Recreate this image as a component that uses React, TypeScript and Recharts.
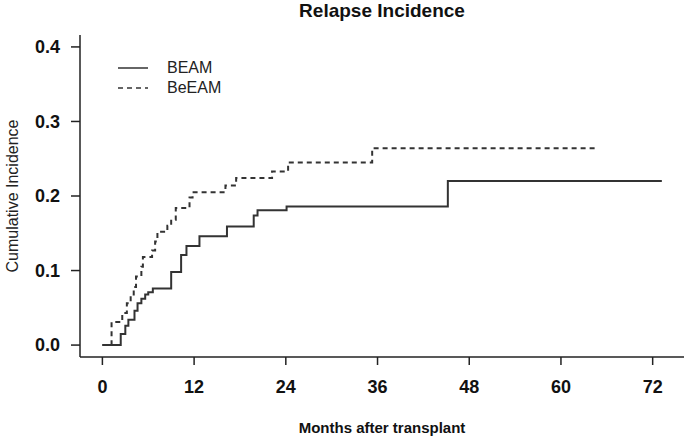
import * as React from "react"
import { LineChart, Line, XAxis, YAxis, Label } from "recharts"

// months after transplant where each curve steps, and the cumulative incidence reached there
const MONTHS_BEAM = [0, 2.4, 3.0, 3.4, 4.2, 4.6, 5.1, 5.6, 6.0, 6.6, 9.0, 10.3, 11.0, 12.7, 16.3, 19.8, 20.3, 24.1, 45.2, 73.2]
const CI_BEAM = [0, 0.015, 0.026, 0.034, 0.046, 0.056, 0.062, 0.068, 0.071, 0.076, 0.098, 0.121, 0.133, 0.146, 0.159, 0.174, 0.181, 0.186, 0.22, 0.22]

const MONTHS_BEEAM = [0, 1.2, 2.6, 3.2, 3.7, 4.1, 4.4, 5.1, 5.3, 6.5, 6.9, 7.2, 8.5, 9.0, 9.6, 11.4, 11.8, 16.1, 17.5, 22.2, 24.3, 35.3, 64.9]
const CI_BEEAM = [0, 0.031, 0.043, 0.056, 0.068, 0.078, 0.092, 0.105, 0.118, 0.127, 0.139, 0.152, 0.16, 0.168, 0.184, 0.198, 0.205, 0.214, 0.224, 0.233, 0.245, 0.264, 0.264]

const SERIES_NAMES = ["BEAM", "BeEAM"]
const X_TICKS = [0, 12, 24, 36, 48, 60, 72]
const Y_TICKS = [0, 0.1, 0.2, 0.3, 0.4]

const FONT = "'Liberation Sans', Arial, sans-serif"
const INK = "#222"

const beamData = MONTHS_BEAM.map((month, i) => ({ month, ci: CI_BEAM[i] }))
const beeamData = MONTHS_BEEAM.map((month, i) => ({ month, ci: CI_BEEAM[i] }))

function LegendBox() {
  const rows = [
    { name: SERIES_NAMES[0], dash: undefined },
    { name: SERIES_NAMES[1], dash: "5 4" },
  ]
  return (
    <div style={{ position: "absolute", top: 58, left: 118, fontFamily: FONT, fontSize: 16, color: INK }}>
      {rows.map((r) => (
        <div key={r.name} style={{ display: "flex", alignItems: "center", height: 20 }}>
          <svg width={30} height={4} style={{ marginRight: 19 }}>
            <line x1={0} y1={2} x2={30} y2={2} stroke="#333" strokeWidth={1.5} strokeDasharray={r.dash} />
          </svg>
          <span>{r.name}</span>
        </div>
      ))}
    </div>
  )
}

export default function App() {
  return (
    <div style={{ position: "absolute", left: 0, top: 0, width: 685, height: 439, background: "#fff" }}>
      <div
        style={{
          position: "absolute",
          top: 0,
          left: 80,
          width: 604,
          textAlign: "center",
          fontFamily: FONT,
          fontWeight: 700,
          fontSize: 19,
          lineHeight: "22px",
          color: "#111",
        }}
      >
        Relapse Incidence
      </div>
      <LineChart width={685} height={439} margin={{ top: 35, right: 1, bottom: 0, left: 0 }}>
        <XAxis
          dataKey="month"
          type="number"
          domain={[-2.93, 76.1]}
          ticks={X_TICKS}
          allowDataOverflow
          height={82}
          tickSize={8}
          tickMargin={15}
          axisLine={{ stroke: INK, strokeWidth: 1.5 }}
          tickLine={{ stroke: INK, strokeWidth: 1.5 }}
          tick={{ fill: "#111", fontSize: 18, fontWeight: 700, fontFamily: FONT }}
        >
          <Label
            content={({ viewBox }: any) => (
              <text
                x={viewBox.x + viewBox.width / 2}
                y={433}
                textAnchor="middle"
                fontFamily={FONT}
                fontWeight={700}
                fontSize={15}
                fill="#111"
              >
                Months after transplant
              </text>
            )}
          />
        </XAxis>
        <YAxis
          type="number"
          domain={[-0.016, 0.416]}
          ticks={Y_TICKS}
          allowDataOverflow
          width={80}
          tickSize={9}
          tickMargin={11}
          tickFormatter={(v: number) => v.toFixed(1)}
          axisLine={{ stroke: INK, strokeWidth: 1.5 }}
          tickLine={{ stroke: INK, strokeWidth: 1.5 }}
          tick={{ fill: "#111", fontSize: 18, fontWeight: 700, fontFamily: FONT }}
        >
          <Label
            content={({ viewBox }: any) => {
              const cy = viewBox.y + viewBox.height / 2
              return (
                <text
                  x={18}
                  y={cy}
                  transform={`rotate(-90 18 ${cy})`}
                  textAnchor="middle"
                  fontFamily={FONT}
                  fontSize={16}
                  fill="#222"
                >
                  Cumulative Incidence
                </text>
              )
            }}
          />
        </YAxis>
        <Line
          data={beamData}
          dataKey="ci"
          name={SERIES_NAMES[0]}
          type="stepAfter"
          stroke="#333"
          strokeWidth={2}
          dot={false}
          isAnimationActive={false}
        />
        <Line
          data={beeamData}
          dataKey="ci"
          name={SERIES_NAMES[1]}
          type="stepAfter"
          stroke="#333"
          strokeWidth={2}
          strokeDasharray="5 4"
          dot={false}
          isAnimationActive={false}
        />
      </LineChart>
      <LegendBox />
    </div>
  )
}
